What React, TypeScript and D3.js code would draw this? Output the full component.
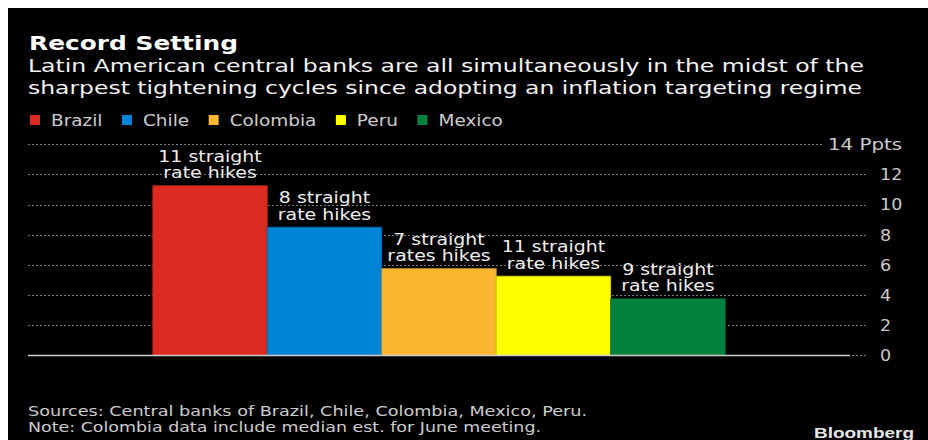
import React, { useEffect, useRef } from "react";
import * as d3 from "d3";

const countries = ["Brazil", "Chile", "Colombia", "Peru", "Mexico"];
const values = [11.25, 8.5, 5.75, 5.25, 3.75];
const colors = ["#dc2a20", "#0084d8", "#fbb731", "#ffff00", "#00823e"];
const labelLine1 = ["11 straight", "8 straight", "7 straight", "11 straight", "9 straight"];
const labelLine2 = ["rate hikes", "rate hikes", "rates hikes", "rate hikes", "rate hikes"];
const yTicks = [0, 2, 4, 6, 8, 10, 12, 14];
const unitLabel = "Ppts";
const title = "Record Setting";
const subtitleLines = [
  "Latin American central banks are all simultaneously in the midst of the",
  "sharpest tightening cycles since adopting an inflation targeting regime",
];
const footerLines = [
  "Sources: Central banks of Brazil, Chile, Colombia, Mexico, Peru.",
  "Note: Colombia data include median est. for June meeting.",
];
const brand = "Bloomberg";

const FONT = "'DejaVu Sans', Verdana, sans-serif";

type Sel = d3.Selection<SVGTextElement, unknown, null, undefined>;

function stretch(t: Sel, factor: number) {
  const w = (t.node() as SVGTextElement).getComputedTextLength();
  t.attr("textLength", w * factor).attr("lengthAdjust", "spacingAndGlyphs");
  return w * factor;
}

export default function App() {
  const ref = useRef<SVGSVGElement | null>(null);

  useEffect(() => {
    document.documentElement.style.overflow = "hidden";
    document.body.style.overflow = "hidden";
    const svg = d3.select(ref.current);
    svg.selectAll("*").remove();
    const root = svg.append("g").attr("transform", "translate(-8,-8)");

    root.append("rect").attr("x", 8).attr("y", 8).attr("width", 930).attr("height", 440).attr("fill", "#000");

    // Title
    root.append("text").attr("x", 29).attr("y", 50).attr("fill", "#fff")
      .attr("font-family", FONT).attr("font-weight", "bold").attr("font-size", 20)
      .attr("textLength", 209).attr("lengthAdjust", "spacingAndGlyphs").text(title);

    const subW = [836, 834];
    subtitleLines.forEach((s, i) => {
      root.append("text").attr("x", 28).attr("y", 71.5 + i * 22.5).attr("fill", "#f2f2f2")
        .attr("font-family", FONT).attr("font-size", 18.5)
        .attr("textLength", subW[i]).attr("lengthAdjust", "spacingAndGlyphs").text(s);
    });

    // Legend
    let lx = 30;
    countries.forEach((c, i) => {
      root.append("rect").attr("x", lx).attr("y", 115).attr("width", 10).attr("height", 10).attr("fill", colors[i]);
      const t = root.append("text").attr("x", lx + 21).attr("y", 126).attr("fill", "#cccccc")
        .attr("font-family", FONT).attr("font-size", 15).text(c) as unknown as Sel;
      const w = stretch(t, 1.23);
      lx = lx + 21 + w + 19.5;
    });

    const y = d3.scaleLinear().domain([0, 14]).range([355.3, 144.3]);
    const x = d3.scaleBand<string>().domain(countries).range([28, 850]).paddingInner(0).paddingOuter(1.09).align(0.5);

    // Gridlines
    root.append("g").selectAll("line").data(yTicks).join("line")
      .attr("x1", 28).attr("x2", (d) => (d === 14 ? 823 : 866))
      .attr("y1", (d) => Math.round(y(d)) + 0.5).attr("y2", (d) => Math.round(y(d)) + 0.5)
      .attr("stroke", "#7a7a7a").attr("stroke-width", 1).attr("stroke-dasharray", "2,2");

    // Tick labels
    const tickG = root.append("g");
    yTicks.forEach((d) => {
      const t = tickG.append("text")
        .attr("x", d === 14 ? 828 : 880).attr("y", y(d)).attr("dy", "0.35em")
        .attr("fill", "#cccccc").attr("font-family", FONT).attr("font-size", 16.5)
        .text(d === 14 ? `${d} ${unitLabel}` : `${d}`) as unknown as Sel;
      if (d === 14) t.attr("textLength", 74).attr("lengthAdjust", "spacingAndGlyphs");
      else stretch(t, 1.06);
    });

    // Bars
    root.append("g").selectAll("rect").data(countries).join("rect")
      .attr("x", (d) => x(d)!).attr("width", x.bandwidth())
      .attr("y", (_, i) => y(values[i])).attr("height", (_, i) => y(0) - y(values[i]))
      .attr("fill", (_, i) => colors[i])
      .attr("stroke", (_, i) => d3.color(colors[i])!.darker(0.6).toString()).attr("stroke-width", 0.8);

    // Baseline
    root.append("line").attr("x1", 28).attr("x2", 850).attr("y1", 355.5).attr("y2", 355.5)
      .attr("stroke", "#cfcfcf").attr("stroke-width", 1.5);

    // Bar labels
    const lab = root.append("g").attr("font-family", FONT).attr("font-size", 15.5)
      .attr("fill", "#eeeeee").attr("text-anchor", "middle");
    countries.forEach((c, i) => {
      const cx = x(c)! + x.bandwidth() / 2;
      const top = y(values[i]);
      const t1 = lab.append("text").attr("x", cx).attr("y", top - 24).text(labelLine1[i]) as unknown as Sel;
      stretch(t1, 1.22);
      const t2 = lab.append("text").attr("x", cx).attr("y", top - 7.5).text(labelLine2[i]) as unknown as Sel;
      stretch(t2, 1.22);
    });

    // Footer
    const fW = [559, 513];
    footerLines.forEach((s, i) => {
      root.append("text").attr("x", 28).attr("y", 416 + i * 15.5).attr("fill", "#cccccc")
        .attr("font-family", FONT).attr("font-size", 13.5)
        .attr("textLength", fW[i]).attr("lengthAdjust", "spacingAndGlyphs").text(s);
    });

    root.append("text").attr("x", 814).attr("y", 437.5).attr("fill", "#e6e6e6")
      .attr("font-family", "'Liberation Sans', Arial, sans-serif").attr("font-weight", "bold").attr("font-size", 15)
      .attr("textLength", 100).attr("lengthAdjust", "spacingAndGlyphs").text(brand);
  }, []);

  return (
    <svg
      ref={ref}
      width={920}
      height={432}
      style={{ display: "block", position: "absolute", left: 8, top: 8 }}
    />
  );
}
